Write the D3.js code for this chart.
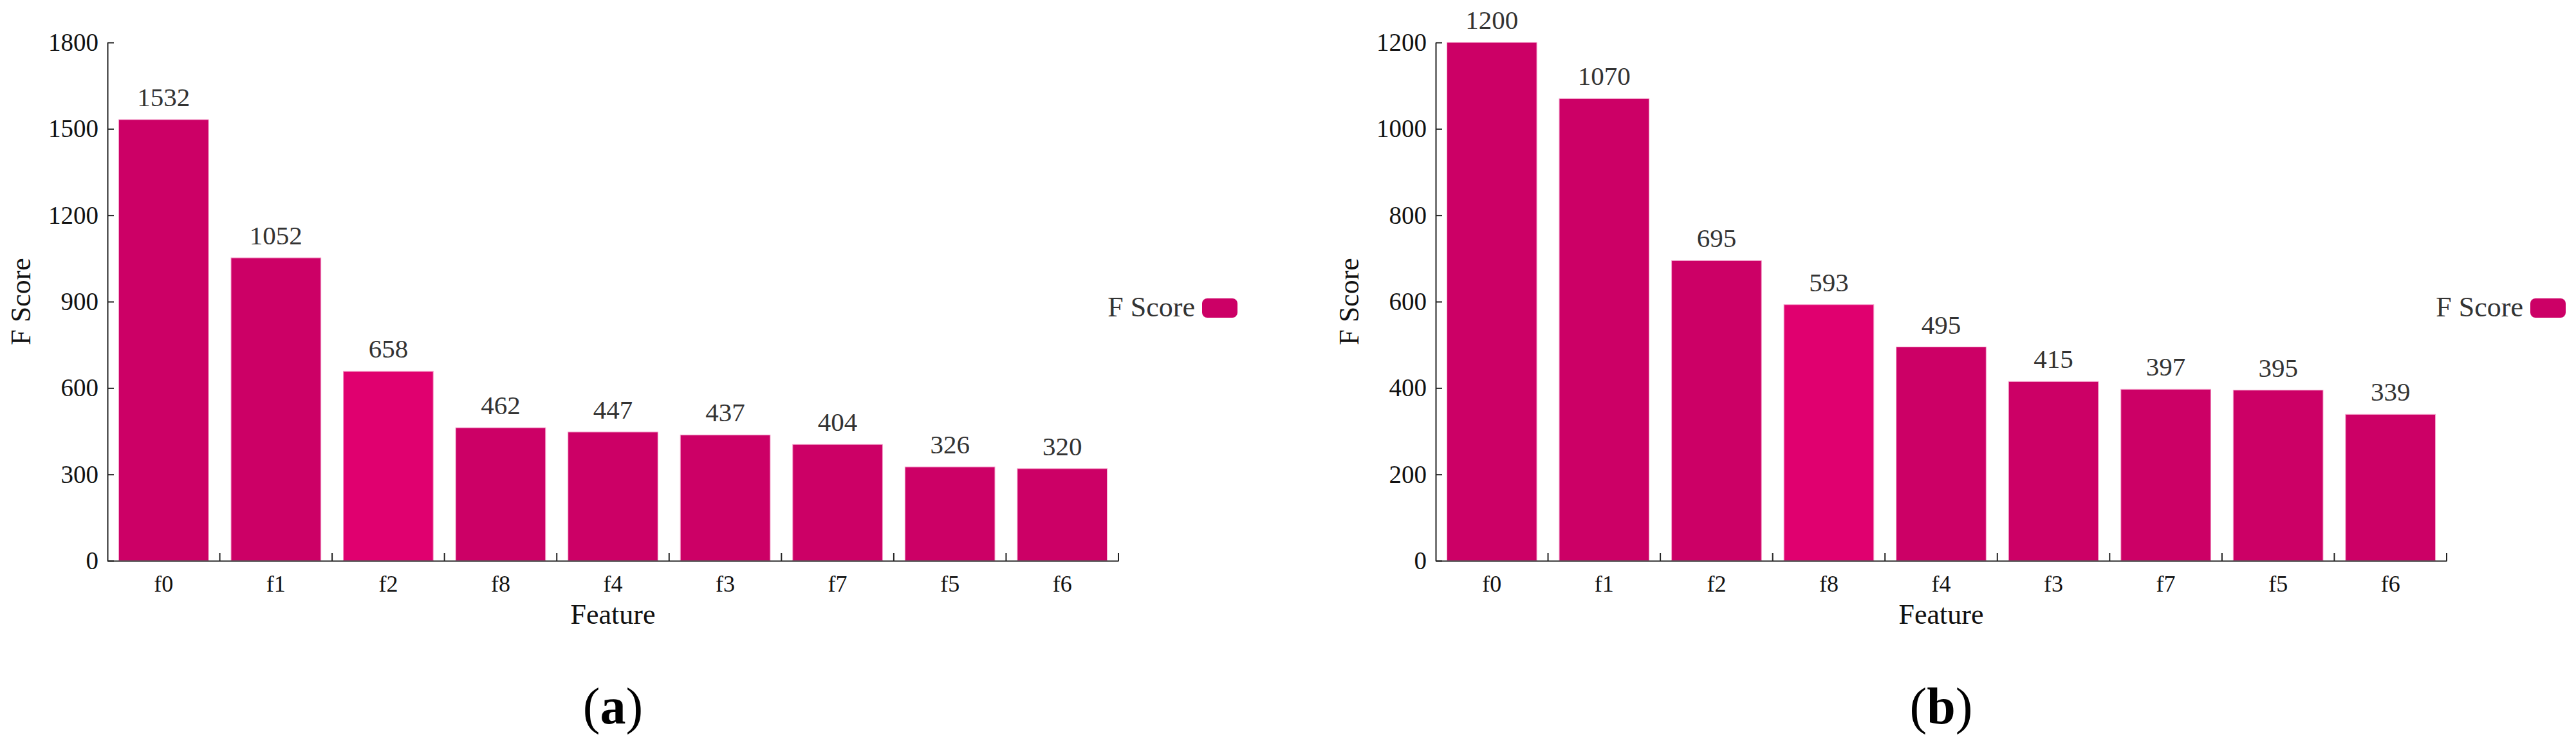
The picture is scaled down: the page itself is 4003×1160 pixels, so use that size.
<!DOCTYPE html>
<html>
<head>
<meta charset="utf-8">
<script src="https://cdn.jsdelivr.net/npm/d3@7"></script>
<style>
  body { margin: 0; background: #fff; }
  text { font-family: "Liberation Serif", "Times New Roman", serif; }
</style>
</head>
<body>
<script>
// data for panel (a)
var featuresA = ["f0", "f1", "f2", "f8", "f4", "f3", "f7", "f5", "f6"];
var scoresA = [1532, 1052, 658, 462, 447, 437, 404, 326, 320];
var ticksA = [0, 300, 600, 900, 1200, 1500, 1800];
var highlightA = "f2";

// data for panel (b)
var featuresB = ["f0", "f1", "f2", "f8", "f4", "f3", "f7", "f5", "f6"];
var scoresB = [1200, 1070, 695, 593, 495, 415, 397, 395, 339];
var ticksB = [0, 200, 400, 600, 800, 1000, 1200];
var highlightB = "f8";

var seriesName = "F Score";
var xTitle = "Feature";

// Define SVG area dimensions
var svgWidth = 4003;
var svgHeight = 1160;

// chart area inside each panel
var chartWidth = 1571;
var chartHeight = 806;

var barColor = "#cc0066";
var hiColor = "#e0006f";

var svg = d3.select("body")
  .append("svg")
  .attr("width", svgWidth)
  .attr("height", svgHeight);

svg.append("rect")
  .attr("width", svgWidth)
  .attr("height", svgHeight)
  .attr("fill", "#fff");

function drawPanel(left, top, features, scores, yTicks, highlight, letter) {
  var g = svg.append("g")
    .attr("transform", `translate(${left}, ${top})`);

  // scale x to chart width
  var xScale = d3.scaleBand()
    .domain(features)
    .range([0, chartWidth])
    .paddingInner(0.2)
    .paddingOuter(0.1);

  // scale y to chart height
  var yScale = d3.scaleLinear()
    .domain([0, d3.max(yTicks)])
    .range([chartHeight, 0]);

  // bars
  g.selectAll(".bar")
    .data(features)
    .enter()
    .append("rect")
    .attr("class", "bar")
    .attr("x", d => xScale(d))
    .attr("y", (d, i) => yScale(scores[i]))
    .attr("width", xScale.bandwidth())
    .attr("height", (d, i) => chartHeight - yScale(scores[i]))
    .attr("fill", d => d === highlight ? hiColor : barColor)
    .attr("stroke", "#f5a3cc")
    .attr("stroke-width", 1);

  // value labels
  g.selectAll(".val")
    .data(features)
    .enter()
    .append("text")
    .attr("class", "val")
    .attr("x", d => xScale(d) + xScale.bandwidth() / 2)
    .attr("y", (d, i) => yScale(scores[i]) - 21)
    .attr("text-anchor", "middle")
    .attr("font-size", 41)
    .attr("fill", "#333")
    .text((d, i) => scores[i]);

  // y axis, ticks pointing inward
  var yAxis = d3.axisLeft(yScale)
    .tickValues(yTicks)
    .tickFormat(d3.format("d"))
    .tickSizeInner(-10)
    .tickSizeOuter(0)
    .tickPadding(14);

  var yG = g.append("g").call(yAxis);
  yG.select(".domain").attr("stroke", "#222").attr("stroke-width", 2);
  yG.selectAll(".tick line").attr("stroke", "#222").attr("stroke-width", 2);
  yG.selectAll(".tick text")
    .attr("font-size", 39)
    .attr("fill", "#111");

  // x axis: labels at band centers
  var xAxis = d3.axisBottom(xScale)
    .tickSize(0)
    .tickPadding(22);

  var xG = g.append("g")
    .attr("transform", `translate(0, ${chartHeight})`)
    .call(xAxis);
  xG.select(".domain").attr("stroke", "#222").attr("stroke-width", 2);
  xG.selectAll(".tick text")
    .attr("font-size", 36)
    .attr("fill", "#111");

  // x ticks sit on the band boundaries and point up
  var gap = xScale.step() * xScale.paddingInner() / 2;
  g.selectAll(".xtick")
    .data(features)
    .enter()
    .append("line")
    .attr("class", "xtick")
    .attr("x1", d => xScale(d) + xScale.bandwidth() + gap)
    .attr("x2", d => xScale(d) + xScale.bandwidth() + gap)
    .attr("y1", chartHeight)
    .attr("y2", chartHeight - 12)
    .attr("stroke", "#222")
    .attr("stroke-width", 2);

  // axis titles
  g.append("text")
    .attr("transform", `translate(-120, ${chartHeight / 2}) rotate(-90)`)
    .attr("text-anchor", "middle")
    .attr("font-size", 44)
    .attr("fill", "#111")
    .text(seriesName);

  g.append("text")
    .attr("x", chartWidth / 2)
    .attr("y", 904)
    .attr("text-anchor", "middle")
    .attr("font-size", 44)
    .attr("fill", "#111")
    .text(xTitle);

  // legend
  g.append("text")
    .attr("x", 1690)
    .attr("y", 426)
    .attr("text-anchor", "end")
    .attr("font-size", 44)
    .attr("fill", "#333")
    .text(seriesName);

  g.append("rect")
    .attr("x", 1701)
    .attr("y", 398)
    .attr("width", 55)
    .attr("height", 30)
    .attr("rx", 8)
    .attr("fill", barColor);

  // panel caption
  var cap = g.append("text")
    .attr("x", chartWidth / 2)
    .attr("y", 1059)
    .attr("text-anchor", "middle")
    .attr("font-size", 80)
    .attr("fill", "#000");
  cap.append("tspan").text("(");
  cap.append("tspan").attr("font-weight", "bold").text(letter);
  cap.append("tspan").text(")");
}

drawPanel(167, 66, featuresA, scoresA, ticksA, highlightA, "a");
drawPanel(2231, 66, featuresB, scoresB, ticksB, highlightB, "b");
</script>
</body>
</html>
